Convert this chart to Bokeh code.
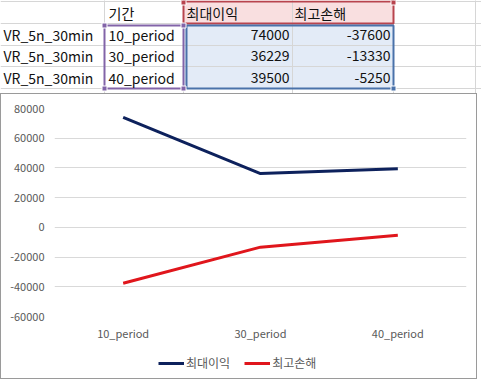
from bokeh.plotting import figure
from bokeh.models import (ColumnDataSource, FactorRange, Range1d, FixedTicker,
                          Legend, LegendItem, NumeralTickFormatter)
from bokeh.embed import file_html
from bokeh.resources import INLINE
from bokeh.core.properties import value

# ---------------- data ----------------
strategy = ["VR_5n_30min", "VR_5n_30min", "VR_5n_30min"]
periods = ["10_period", "30_period", "40_period"]
max_profit = [74000, 36229, 39500]
max_loss = [-37600, -13330, -5250]
header_period = "기간"
name_profit = "최대이익"
name_loss = "최고손해"
y_ticks = [-60000, -40000, -20000, 0, 20000, 40000, 60000, 80000]

FONT = "Noto Sans CJK KR"
NAVY = "#0d215c"
RED = "#e0161c"
FRAME = "1px solid #9a9a9a"

# ---------------- spreadsheet table ----------------
W = 481
TH = 93
t = figure(width=W, height=TH, x_range=Range1d(0, W), y_range=Range1d(TH, 0),
           x_axis_type=None, y_axis_type=None, toolbar_location=None,
           output_backend="svg", min_border=0)
t.grid.visible = False
t.outline_line_color = None
t.background_fill_color = "white"

# column boundaries A|B, B|C, C|D, D|E, E|F  and row boundaries
col_x = [104, 183, 292, 393, 475]
row_y = [1, 23, 45, 66, 88]
text_y = [12, 34, 55, 77]

t.quad(left=[col_x[1]], right=[col_x[3]], top=[row_y[0]], bottom=[row_y[1]],
       fill_color="#f9dfe0", line_color=None)
t.quad(left=[col_x[1]], right=[col_x[3]], top=[row_y[1]], bottom=[row_y[4]],
       fill_color="#e3ebf7", line_color=None)
t.segment(x0=[0] * 5, x1=[W] * 5, y0=row_y, y1=row_y, line_color="#d6d6d6", line_width=1)
t.segment(x0=col_x, x1=col_x, y0=[-5] * 5, y1=[TH] * 5, line_color="#d6d6d6", line_width=1)
t.quad(left=[col_x[1]], right=[col_x[3]], top=[row_y[0]], bottom=[row_y[1]],
       fill_color=None, line_color="#b8444e", line_width=2)
t.quad(left=[col_x[1] + 3], right=[col_x[3]], top=[row_y[1] + 2], bottom=[row_y[4]],
       fill_color=None, line_color="#4a72aa", line_width=2)
t.quad(left=[col_x[0]], right=[col_x[1]], top=[row_y[1] + 2], bottom=[row_y[4]],
       fill_color=None, line_color="#8264a8", line_width=2)
t.rect(x=[col_x[1], col_x[3]], y=[row_y[0] + 1, row_y[0] + 1], width=5, height=5,
       fill_color="#b8444e", line_color="white")
t.rect(x=[col_x[0], col_x[1], col_x[0], col_x[1]],
       y=[row_y[1] + 2, row_y[1] + 2, row_y[4], row_y[4]],
       width=5, height=5, fill_color="#8264a8", line_color="white")
t.rect(x=[col_x[3]], y=[row_y[4]], width=5, height=5, fill_color="#4a72aa", line_color="white")


def put(xs, ys, strings, align):
    src = ColumnDataSource(dict(x=xs, y=ys, s=strings))
    t.text(x="x", y="y", text="s", source=src, text_font=value(FONT), text_font_size="14px",
           text_baseline="middle", text_align=align, text_color="#111111")


body_y = text_y[1:]
put([col_x[0] + 4, col_x[1] + 3, col_x[2] + 2], [text_y[0]] * 3,
    [header_period, name_profit, name_loss], "left")
put([3] * 3, body_y, strategy, "left")
put([col_x[0] + 4] * 3, body_y, periods, "left")
put([col_x[2] - 3] * 3, body_y, [str(v) for v in max_profit], "right")
put([col_x[3] - 3] * 3, body_y, [str(v) for v in max_loss], "right")

# ---------------- chart ----------------
p = figure(width=477, height=249,
           x_range=FactorRange(*periods, range_padding=0),
           y_range=Range1d(-60000, 80000), toolbar_location=None, output_backend="svg",
           min_border_left=53, min_border_right=12, min_border_top=14, min_border_bottom=24)
p.styles = {"border": FRAME, "border-bottom": "none", "box-sizing": "border-box"}
p.outline_line_color = None
p.xgrid.visible = False
p.ygrid.grid_line_color = "#d9d9d9"
p.ygrid.grid_line_width = 1

p.yaxis.ticker = FixedTicker(ticks=y_ticks)
p.yaxis.formatter = NumeralTickFormatter(format="0")
for ax in (p.xaxis[0], p.yaxis[0]):
    ax.axis_line_color = None
    ax.major_tick_line_color = None
    ax.minor_tick_line_color = None
    ax.major_tick_out = 0
    ax.major_tick_in = 0
    ax.major_label_text_font = FONT
    ax.major_label_text_font_size = "11px"
    ax.major_label_text_color = "#595959"
p.yaxis.major_label_standoff = 10
p.xaxis.major_label_standoff = 8

p.line(x=periods, y=max_profit, line_color=NAVY, line_width=3)
p.line(x=periods, y=max_loss, line_color=RED, line_width=3)

# ---------------- legend strip ----------------
lg = figure(width=477, height=37, x_range=Range1d(0, 1), y_range=Range1d(0, 1),
            x_axis_type=None, y_axis_type=None, toolbar_location=None,
            output_backend="svg", min_border=0)
lg.styles = {"border": FRAME, "border-top": "none", "box-sizing": "border-box"}
lg.grid.visible = False
lg.outline_line_color = None
# off-screen proxy renderers, only used to draw the legend keys
d1 = lg.line(x=[5, 6], y=[5, 6], line_color=NAVY, line_width=3)
d2 = lg.line(x=[5, 6], y=[5, 6], line_color=RED, line_width=3)
legend = Legend(items=[LegendItem(label=name_profit, renderers=[d1]),
                       LegendItem(label=name_loss, renderers=[d2])],
                orientation="horizontal", location=(157, 8),
                label_text_font=FONT, label_text_font_size="12px",
                label_text_color="#595959", glyph_width=26, glyph_height=14,
                label_height=14, label_standoff=2, spacing=14, padding=0, margin=0,
                border_line_color=None, background_fill_alpha=0)
lg.add_layout(legend, "center")

open("out.html", "w").write(file_html([t, p, lg], INLINE))
